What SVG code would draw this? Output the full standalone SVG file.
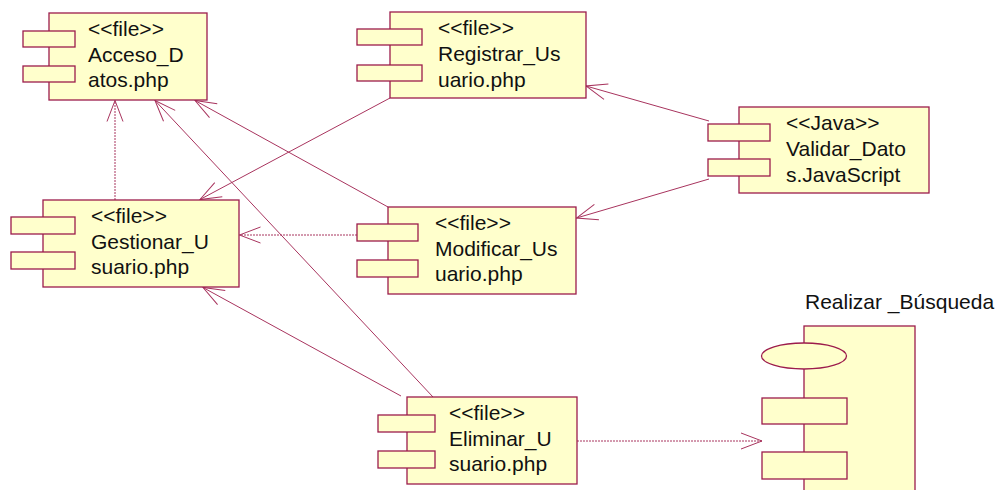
<svg xmlns="http://www.w3.org/2000/svg" width="1002" height="490" viewBox="0 0 1002 490">
<style>
.b{fill:#FFFFCC;stroke:#9C1C4C;stroke-width:1.3}
.t{font-family:"Liberation Sans",Arial,sans-serif;font-size:21px;fill:#111}
.c{fill:none;stroke:#A8345E;stroke-width:1}
.d{stroke-dasharray:2,1}
</style>
<defs>
<marker id="a" markerUnits="userSpaceOnUse" markerWidth="30" markerHeight="30" viewBox="-25 -12 30 24" refX="0" refY="0" orient="auto">
<path d="M-21,-8 L0,0 L-21,8" fill="none" stroke="#A8345E" stroke-width="1"/>
</marker>
</defs>
<rect width="1002" height="490" fill="#fff"/>
<g id="connectors">
<line class="c d" x1="115" y1="200" x2="115" y2="100.5" marker-end="url(#a)"/>
<line class="c" x1="388" y1="207" x2="195" y2="100.5" marker-end="url(#a)"/>
<line class="c" x1="433" y1="397" x2="155" y2="100.5" marker-end="url(#a)"/>
<line class="c" x1="390" y1="98" x2="200" y2="199.5" marker-end="url(#a)"/>
<line class="c d" x1="357" y1="235" x2="239.5" y2="235" marker-end="url(#a)"/>
<line class="c" x1="401" y1="396" x2="203" y2="287.5" marker-end="url(#a)"/>
<line class="c" x1="709" y1="121" x2="586" y2="86" marker-end="url(#a)"/>
<line class="c" x1="709" y1="179" x2="576.5" y2="218" marker-end="url(#a)"/>
<line class="c d" x1="577" y1="441" x2="762" y2="441" marker-end="url(#a)"/>
</g>
<g id="acceso_datos">
<rect class="b" x="49" y="13" width="158" height="87"/>
<rect class="b" x="23" y="31" width="52" height="16"/>
<rect class="b" x="23" y="66" width="52" height="16"/>
<text class="t" x="88" y="36">&lt;&lt;file&gt;&gt;</text>
<text class="t" x="88" y="61.5">Acceso_D</text>
<text class="t" x="88" y="87">atos.php</text>
</g>
<g id="registrar_usuario">
<rect class="b" x="390" y="12" width="196" height="86"/>
<rect class="b" x="357" y="29" width="65" height="16"/>
<rect class="b" x="357" y="65" width="65" height="16"/>
<text class="t" x="438" y="35">&lt;&lt;file&gt;&gt;</text>
<text class="t" x="438" y="61">Registrar_Us</text>
<text class="t" x="438" y="86.5">uario.php</text>
</g>
<g id="validar_datos">
<rect class="b" x="739" y="107" width="190" height="86"/>
<rect class="b" x="708" y="124" width="62" height="17"/>
<rect class="b" x="708" y="159" width="62" height="17"/>
<text class="t" x="786" y="130">&lt;&lt;Java&gt;&gt;</text>
<text class="t" x="786" y="155.5">Validar_Dato</text>
<text class="t" x="786" y="181.5">s.JavaScript</text>
</g>
<g id="gestionar_usuario">
<rect class="b" x="43" y="200" width="196" height="87"/>
<rect class="b" x="11" y="217" width="64" height="17"/>
<rect class="b" x="11" y="252" width="64" height="17"/>
<text class="t" x="91" y="223">&lt;&lt;file&gt;&gt;</text>
<text class="t" x="91" y="248.5">Gestionar_U</text>
<text class="t" x="91" y="274">suario.php</text>
</g>
<g id="modificar_usuario">
<rect class="b" x="388" y="207" width="188" height="87"/>
<rect class="b" x="357" y="224" width="61" height="17"/>
<rect class="b" x="357" y="260" width="61" height="17"/>
<text class="t" x="435" y="230">&lt;&lt;file&gt;&gt;</text>
<text class="t" x="435" y="255.5">Modificar_Us</text>
<text class="t" x="435" y="281">uario.php</text>
</g>
<g id="eliminar_usuario">
<rect class="b" x="407" y="397" width="170" height="87"/>
<rect class="b" x="378" y="415" width="57" height="17"/>
<rect class="b" x="378" y="451" width="57" height="17"/>
<text class="t" x="449" y="420">&lt;&lt;file&gt;&gt;</text>
<text class="t" x="449" y="445.5">Eliminar_U</text>
<text class="t" x="449" y="471">suario.php</text>
</g>
<g id="realizar_busqueda">
<text class="t" x="805" y="309">Realizar _Búsqueda</text>
<rect class="b" x="804" y="326" width="111" height="180"/>
<ellipse class="b" cx="804" cy="356" rx="42.5" ry="13"/>
<rect class="b" x="762" y="398" width="85" height="26"/>
<rect class="b" x="762" y="452" width="85" height="27"/>
</g>
</svg>
